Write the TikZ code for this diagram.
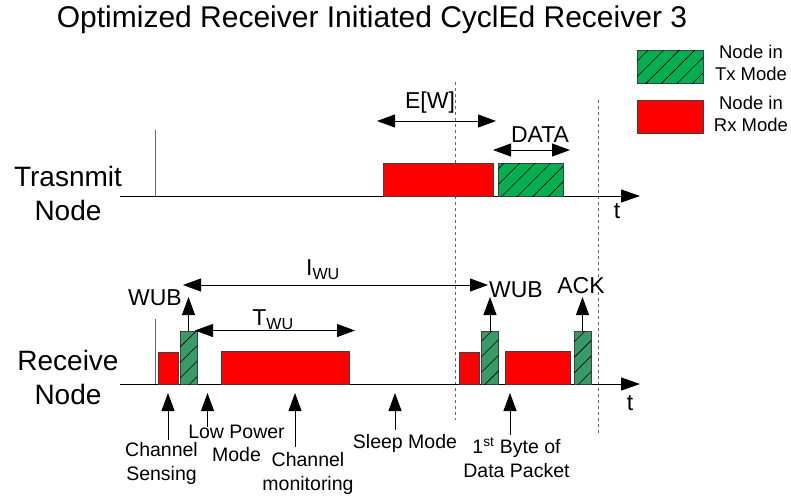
\documentclass[tikz,border=0pt]{standalone}
\usepackage{fontspec}
\setmainfont{Liberation Sans}
\usetikzlibrary{arrows.meta,patterns.meta}
\definecolor{txgreen}{RGB}{0,176,80}
\definecolor{wubgreen}{RGB}{56,154,104}
\definecolor{rxred}{RGB}{255,0,0}

\begin{document}
\begin{tikzpicture}[x=1pt,y=-1pt,
    slot/.style={draw=black!75,line width=0.8pt,inner sep=0pt,outer sep=0pt,anchor=south west},
    rxbox/.style={slot,fill=rxred},
    txbox/.style={slot,fill=txgreen,postaction={pattern={Lines[angle=45,distance=11pt,line width=0.6pt]}}},
    wubbox/.style={txbox,fill=wubgreen},
    pointer/.style={-{Triangle[length=18pt,width=13pt]},line width=0.9pt},
    span/.style={{Triangle[length=18pt,width=13pt]}-{Triangle[length=18pt,width=13pt]},line width=0.9pt},
    timeline/.style={-{Triangle[length=19pt,width=13pt]},line width=1pt},
    lbl/.style={font=\fontsize{23}{27}\selectfont,inner sep=0pt},
    note/.style={font=\fontsize{19.5}{23.3}\selectfont,align=center,inner sep=0pt},
    legend/.style={font=\fontsize{18.5}{22}\selectfont,align=center,inner sep=0pt},
    side/.style={font=\fontsize{28}{34}\selectfont,align=center,inner sep=0pt}]
  \useasboundingbox (0,0) rectangle (791,496);

  \node[font=\fontsize{30}{34}\selectfont] (title) at (372,20) {Optimized Receiver Initiated CyclEd Receiver 3};

  \node[txbox,minimum width=66,minimum height=33] (legtx) at (637,83) {};
  \node[rxbox,minimum width=66,minimum height=33] (legrx) at (637,133) {};
  \node[legend] (legtxt) at (751,63) {Node in\\Tx Mode};
  \node[legend] (legrxt) at (751,114) {Node in\\Rx Mode};

  \node[side] (trans) at (68,193) {Trasnmit\\Node};
  \node[side] (recv) at (68,377) {Receive\\Node};

  \draw[dashed,black!60] (455,82) -- (455,420);
  \draw[dashed,black!60] (598,100) -- (598,434);

  \coordinate (ta) at (120,196);
  \coordinate (tb) at (640,196);
  \coordinate (ra) at (120,384);
  \coordinate (rb) at (640,384);
  \draw[black!60] (155,130) -- (155,196);
  \draw[black!60] (155,319) -- (155,384);
  \draw[timeline] (ta) -- (tb);
  \draw[timeline] (ra) -- (rb);
  \node[lbl] (tt) at (617,211) {t};
  \node[lbl] (rt) at (630,403) {t};

  \node[rxbox,minimum width=110,minimum height=33] (wait) at (383,196) {};
  \node[txbox,minimum width=65,minimum height=33] (data) at (498,196) {};

  \coordinate (ewl) at (377,121);
  \coordinate (ewr) at (496,121);
  \draw[span] (ewl) -- (ewr);
  \node[lbl] (ew) at (430,103) {E[W]};
  \coordinate (dl) at (493,150);
  \coordinate (dr) at (570,150);
  \draw[span] (dl) -- (dr);
  \node[lbl] (datalbl) at (540,135) {DATA};

  \node[rxbox,minimum width=20,minimum height=32] (cs1) at (158,384) {};
  \node[wubbox,minimum width=17,minimum height=53] (wub1) at (180,384) {};
  \node[rxbox,minimum width=128,minimum height=33] (mon) at (221.5,384) {};
  \node[rxbox,minimum width=20,minimum height=32] (cs2) at (459,384) {};
  \node[wubbox,minimum width=17,minimum height=53] (wub2) at (481.5,384) {};
  \node[rxbox,minimum width=65,minimum height=33] (pkt) at (505,384) {};
  \node[wubbox,minimum width=17,minimum height=53] (ack) at (574,384) {};

  \coordinate (w1) at (188.5,297);
  \coordinate (w2) at (490,297);
  \coordinate (w3) at (582.5,297);
  \draw[pointer] (wub1.north) -- (w1);
  \draw[pointer] (wub2.north) -- (w2);
  \draw[pointer] (ack.north) -- (w3);
  \node[lbl] (wublbl1) at (155,298) {WUB};
  \node[lbl] (wublbl2) at (516,290) {WUB};
  \node[lbl] (acklbl) at (581,286) {ACK};

  \coordinate (il) at (183,285);
  \coordinate (ir) at (488,285);
  \draw[span] (il) -- (ir);
  \node[lbl] (iwu) at (323,270) {I\textsubscript{WU}};
  \coordinate (tl) at (195,330.5);
  \coordinate (tr) at (355,330.5);
  \draw[span] (tl) -- (tr);
  \node[lbl] (twu) at (273,320) {T\textsubscript{WU}};

  \node[note] (sensing) at (161.5,463.3) {Channel\\Sensing};
  \node[note] (lowpow) at (236.5,443.5) {Low Power\\Mode};
  \node[note] (monit) at (308,473.5) {Channel\\monitoring};
  \node[note] (sleep) at (405,443) {Sleep Mode};
  \node[note] (first) at (516.5,457.5) {1\textsuperscript{st} Byte of\\Data Packet};

  \coordinate (s0) at (168,440);
  \coordinate (s1) at (168,393);
  \coordinate (l0) at (207.5,426.5);
  \coordinate (l1) at (207.5,393);
  \coordinate (m0) at (295,446.5);
  \coordinate (m1) at (295,393);
  \coordinate (z0) at (395,430);
  \coordinate (z1) at (395,393);
  \coordinate (b0) at (510,435);
  \coordinate (b1) at (510,393);
  \draw[pointer] (s0) -- (s1);
  \draw[pointer] (l0) -- (l1);
  \draw[pointer] (m0) -- (m1);
  \draw[pointer] (z0) -- (z1);
  \draw[pointer] (b0) -- (b1);
\end{tikzpicture}
\end{document}
